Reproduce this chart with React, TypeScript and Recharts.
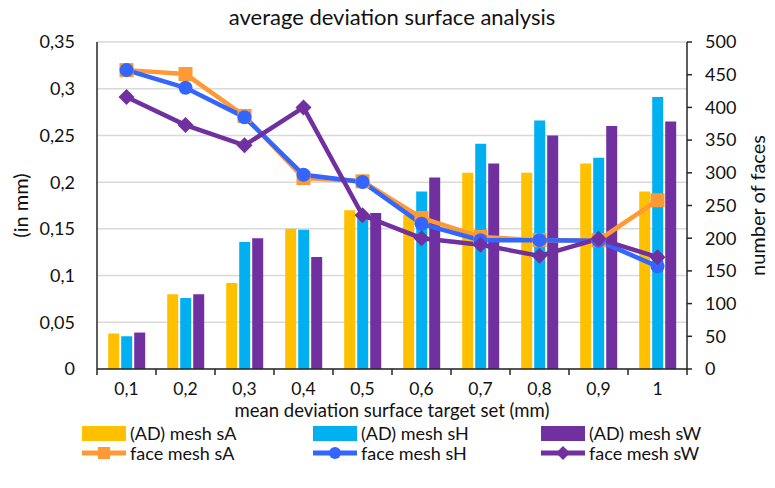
import React from 'react';
import {
  Bar,
  CartesianGrid,
  ComposedChart,
  Line,
  XAxis,
  YAxis,
} from 'recharts';

const FONT = 'Lato, "Open Sans", sans-serif';
const TEXT = '#111111';
const GRID = '#d9d9d9';
const AXIS_LINE = '#262626';

const YELLOW = '#FFC000';
const CYAN = '#00B0F0';
const PURPLE = '#7030A0';
const ORANGE = '#FF9933';
const BLUE = '#3366FF';

const categories = ['0,1', '0,2', '0,3', '0,4', '0,5', '0,6', '0,7', '0,8', '0,9', '1'];

// bars, left axis (mm)
const adMeshSA = [0.038, 0.08, 0.092, 0.15, 0.17, 0.165, 0.21, 0.21, 0.22, 0.19];
const adMeshSH = [0.035, 0.076, 0.136, 0.149, 0.167, 0.19, 0.241, 0.266, 0.226, 0.291];
const adMeshSW = [0.039, 0.08, 0.14, 0.12, 0.167, 0.205, 0.22, 0.25, 0.26, 0.265];

// lines, right axis (number of faces)
const faceMeshSA = [457, 451, 387, 292, 287, 231, 202, 197, 197, 258];
const faceMeshSH = [457, 430, 385, 297, 286, 222, 197, 197, 196, 157];
const faceMeshSW = [416, 373, 342, 400, 235, 200, 190, 173, 199, 171];

const leftTicks = [0, 0.05, 0.1, 0.15, 0.2, 0.25, 0.3, 0.35];
const rightTicks = [0, 50, 100, 150, 200, 250, 300, 350, 400, 450, 500];

const rows = categories.map((c, i) => ({
  cat: c,
  adSA: adMeshSA[i],
  adSH: adMeshSH[i],
  adSW: adMeshSW[i],
  faceSA: faceMeshSA[i],
  faceSH: faceMeshSH[i],
  faceSW: faceMeshSW[i],
}));

const fmtMm = (v: number) => (v === 0 ? '0' : String(Math.round(v * 100) / 100).replace('.', ','));

function SquareDot({ cx, cy }: any) {
  if (cx == null || cy == null) return null;
  return <rect x={cx - 7} y={cy - 7} width={14} height={14} fill={ORANGE} />;
}
function CircleDot({ cx, cy }: any) {
  if (cx == null || cy == null) return null;
  return <circle cx={cx} cy={cy} r={7} fill={BLUE} />;
}
function DiamondDot({ cx, cy }: any) {
  if (cx == null || cy == null) return null;
  const s = 8;
  return <path d={`M${cx},${cy - s}L${cx + s},${cy}L${cx},${cy + s}L${cx - s},${cy}Z`} fill={PURPLE} />;
}

// Excel-style category axis: tick marks sit between categories, labels at the centres
function CategoryTick({ x, y, payload, index }: any) {
  const off = payload?.offset ?? 0;
  const axisY = y - 14;
  const last = index === categories.length - 1;
  return (
    <g>
      <line x1={x - off} x2={x - off} y1={axisY} y2={axisY + 6} stroke={AXIS_LINE} strokeWidth={1.5} />
      {last && <line x1={x + off} x2={x + off} y1={axisY} y2={axisY + 6} stroke={AXIS_LINE} strokeWidth={1.5} />}
      <text x={x} y={y} dy="0.71em" textAnchor="middle" fontSize={17.5} fill={TEXT}>
        {payload.value}
      </text>
    </g>
  );
}

function LegendBar({ color, label }: { color: string; label: string }) {
  return (
    <div style={{ display: 'flex', alignItems: 'center', height: 20, lineHeight: '20px' }}>
      <span style={{ display: 'inline-block', width: 44, height: 15, background: color, marginRight: 4 }} />
      <span>{label}</span>
    </div>
  );
}

function LegendLine({ color, label, shape }: { color: string; label: string; shape: 'sq' | 'ci' | 'di' }) {
  return (
    <div style={{ display: 'flex', alignItems: 'center', height: 20, lineHeight: '20px' }}>
      <svg width={44} height={16} style={{ marginRight: 4 }}>
        <line x1={0} y1={8} x2={44} y2={8} stroke={color} strokeWidth={5} />
        {shape === 'sq' && <rect x={16} y={2} width={12} height={12} fill={color} />}
        {shape === 'ci' && <circle cx={22} cy={8} r={6} fill={color} />}
        {shape === 'di' && <path d="M22,1L29,8L22,15L15,8Z" fill={color} />}
      </svg>
      <span>{label}</span>
    </div>
  );
}

export default function App() {
  return (
    <div style={{ position: 'relative', width: 775, height: 488, background: '#fff', fontFamily: FONT, color: TEXT }}>
      <style>{'body{margin:0}'}</style>
      <div
        style={{
          position: 'absolute',
          top: 3,
          left: 97,
          width: 590,
          textAlign: 'center',
          fontSize: 22,
          color: TEXT,
        }}
      >
        average deviation surface analysis
      </div>
      <ComposedChart
        width={775}
        height={430}
        data={rows}
        margin={{ top: 42, right: 28, left: 0, bottom: 9 }}
        barCategoryGap="19%"
        barGap={2}
        style={{ fontFamily: FONT }}
      >
        <CartesianGrid stroke={GRID} strokeWidth={1.5} vertical={false} yAxisId="mm" />
        <XAxis
          dataKey="cat"
          height={52}
          tickLine={false}
          tickSize={6}
          tickMargin={8}
          axisLine={{ stroke: AXIS_LINE, strokeWidth: 1.5 }}
          tick={<CategoryTick />}
          interval={0}
          label={{ value: 'mean deviation surface target set (mm)', position: 'insideBottom', offset: 4, fontSize: 18.5, fill: TEXT }}
        />
        <YAxis
          yAxisId="mm"
          width={97}
          domain={[0, 0.35]}
          ticks={leftTicks}
          tickFormatter={fmtMm}
          tickLine={false}
          tickMargin={16}
          axisLine={{ stroke: AXIS_LINE, strokeWidth: 1.5 }}
          tick={{ fontSize: 18, fill: TEXT }}
          label={({ viewBox }: any) => {
            const x = viewBox.x + 20;
            const y = viewBox.y + viewBox.height / 2;
            return (
              <text x={x} y={y} transform={`rotate(-90, ${x}, ${y})`} textAnchor="middle" dominantBaseline="central" fontSize={20} fill={TEXT}>
                (in mm)
              </text>
            );
          }}
        />
        <YAxis
          yAxisId="faces"
          orientation="right"
          width={60}
          domain={[0, 500]}
          ticks={rightTicks}
          tickSize={5}
          tickMargin={13}
          tickLine={{ stroke: AXIS_LINE, strokeWidth: 1.5 }}
          axisLine={{ stroke: AXIS_LINE, strokeWidth: 1.5 }}
          tick={{ fontSize: 18, fill: TEXT }}
          label={({ viewBox }: any) => {
            const x = viewBox.x + 70;
            const y = viewBox.y + viewBox.height / 2;
            return (
              <text x={x} y={y} transform={`rotate(-90, ${x}, ${y})`} textAnchor="middle" dominantBaseline="central" fontSize={20} fill={TEXT}>
                number of faces
              </text>
            );
          }}
        />
        <Bar yAxisId="mm" dataKey="adSA" fill={YELLOW} isAnimationActive={false} />
        <Bar yAxisId="mm" dataKey="adSH" fill={CYAN} isAnimationActive={false} />
        <Bar yAxisId="mm" dataKey="adSW" fill={PURPLE} isAnimationActive={false} />
        <Line yAxisId="faces" dataKey="faceSA" stroke={ORANGE} strokeWidth={4.5} dot={<SquareDot />} activeDot={false} isAnimationActive={false} />
        <Line yAxisId="faces" dataKey="faceSH" stroke={BLUE} strokeWidth={4.5} dot={<CircleDot />} activeDot={false} isAnimationActive={false} />
        <Line yAxisId="faces" dataKey="faceSW" stroke={PURPLE} strokeWidth={4.5} dot={<DiamondDot />} activeDot={false} isAnimationActive={false} />
      </ComposedChart>
      <div
        style={{
          position: 'absolute',
          top: 423,
          left: 82,
          display: 'grid',
          gridTemplateColumns: '231px 228px 220px',
          fontSize: 18,
        }}
      >
        <LegendBar color={YELLOW} label="(AD) mesh sA" />
        <LegendBar color={CYAN} label="(AD) mesh sH" />
        <LegendBar color={PURPLE} label="(AD) mesh sW" />
        <LegendLine color={ORANGE} label="face mesh sA" shape="sq" />
        <LegendLine color={BLUE} label="face mesh sH" shape="ci" />
        <LegendLine color={PURPLE} label="face mesh sW" shape="di" />
      </div>
    </div>
  );
}
